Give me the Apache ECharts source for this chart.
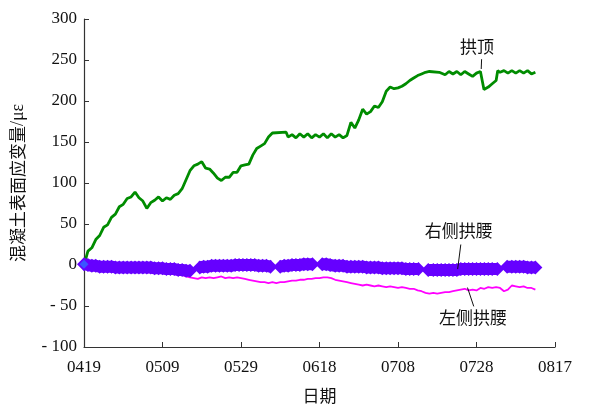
<!DOCTYPE html>
<html>
<head>
<meta charset="utf-8">
<script src="https://cdn.jsdelivr.net/npm/echarts@6/dist/echarts.min.js"></script>
<style>
  html, body { margin: 0; padding: 0; background: #fff; }
  #chart { width: 605px; height: 409px; }
</style>
</head>
<body>
<div id="chart"></div>
<script>
// Tick labels along the date axis (every 20 days from 04-19)
const dateTicks = ['0419', '0509', '0529', '0618', '0708', '0728', '0817'];

// 拱顶 strain, one reading per day (day 0 = 04-19)
const crownDays = [
  0, 1, 2, 3, 4, 5, 6, 7, 8, 9, 10, 11, 12, 13, 14, 15, 16, 17, 18, 19,
  20, 21, 22, 23, 24, 25, 26, 27, 28, 29, 30, 31, 32, 33, 34, 35, 36, 37, 38, 39,
  40, 41, 42, 43, 44, 45, 46, 47, 48, 51.5, 52, 53, 54, 55, 56, 57, 58, 59, 60, 61,
  62, 63, 64, 65, 66, 67, 68, 69, 70, 71, 72, 73, 74, 75, 76, 77, 78, 79, 80, 81,
  82, 83, 84, 85, 86, 87, 88, 90.5, 91, 92, 93, 94, 95, 96, 97, 98, 99, 100, 101, 101.3,
  101.9, 103, 104, 105, 105.4, 106, 107, 108, 109, 110, 111, 112, 113, 114, 115
];
const crownValues = [
  0, 17, 21, 31, 36, 46, 49, 58, 62, 71, 74, 81, 83, 89, 82, 78, 69, 76, 79, 83,
  78, 82, 80, 85, 87, 93, 104, 115, 121, 123, 126, 118, 117, 112, 106, 103, 107, 107, 113, 113,
  121, 122, 123, 134, 142, 145, 148, 156, 161, 162, 156, 159, 155, 160, 156, 160, 155, 159, 156, 160,
  155, 160, 156, 159, 155, 158, 174, 167, 177, 190, 184, 187, 194, 192, 199, 212, 217, 215, 216, 218,
  221, 225, 228, 231, 233, 235, 236, 235, 237, 232, 236, 233, 236, 232, 236, 233, 230, 234, 236, 238,
  214, 217, 221, 225, 237, 235, 237, 234, 237, 234, 237, 234, 237, 233, 235
];

// 右侧拱腰 strain; null marks a break in the record
const rightDays = [
  0, 1, 2, 3, 4, 5, 6, 7, 8, 9, 10, 11, 12, 13, 14, 15, 16, 17, 18, 19,
  20, 21, 22, 23, 24, 25, 26, 27, 28.2, 29.5, 30.5, 31.5, 32.5, 33.5, 34.5, 35.5, 36.5, 37.5, 38.5, 39.5,
  40.5, 41.5, 42.5, 43.5, 44.5, 45.5, 46.5, 47.5, 48.7, 50, 51, 52, 53, 54, 55, 56, 57, 58.2, 59.4, 60.7,
  61.7, 62.7, 64, 65, 66, 67, 68, 69, 70, 71, 72, 73, 74, 75, 76, 77, 78, 79, 80, 81,
  82, 83, 84, 85.2, 86.4, 87.7, 89, 90, 91, 92, 93, 94, 95, 96, 97, 98, 99, 100, 101, 102,
  103, 104, 105.3, 106.5, 107.8, 109, 110, 111, 112, 113, 114, 115
];
const rightValues = [
  1, 0, -1, -1, -2, -2, -2, -2, -3, -3, -3, -3, -3, -3, -3, -3, -3, -3, -4, -4,
  -4, -5, -5, -5, -6, -6, -7, -7, null, -3, -2, -2, -1, -1, -1, -1, -1, -1, 0, 0,
  0, 0, 0, 0, -1, -1, -1, -2, null, -2, -1, -1, 0, 0, 0, 1, 1, 1, null, 1,
  1, 0, -1, -1, -1, -2, -2, -2, -2, -2, -3, -3, -3, -3, -4, -4, -4, -4, -4, -4,
  -5, -5, -5, -5, null, -6, -6, -6, -6, -6, -6, -6, -6, -5, -5, -5, -5, -5, -5, -5,
  -5, -5, -5, null, -2, -2, -2, -2, -2, -3, -3, -3
];

// 左侧拱腰 strain, one reading per day
const leftDays = [
  0, 1, 2, 3, 4, 5, 6, 7, 8, 9, 10, 11, 12, 13, 14, 15, 16, 17, 18, 19,
  20, 21, 22, 23, 24, 25, 26, 27, 28, 29, 30, 31, 32, 33, 34, 35, 36, 37, 38, 39,
  40, 41, 42, 43, 44, 45, 46, 47, 48, 49, 50, 51, 52, 53, 54, 55, 56, 57, 58, 59,
  60, 61, 62, 63, 64, 65, 66, 67, 68, 69, 70, 71, 72, 73, 74, 75, 76, 77, 78, 79,
  80, 81, 82, 83, 84, 85, 86, 87, 88, 89, 90, 91, 92, 93, 94, 95, 96, 97, 98, 99,
  100, 101, 102, 103, 104, 105, 106, 107, 108, 109, 110, 111, 112, 113, 114, 115
];
const leftValues = [
  0, -2, -3, -4, -4, -5, -5, -6, -6, -6, -7, -7, -7, -8, -8, -8, -9, -9, -9, -10,
  -10, -10, -11, -11, -12, -12, -14, -15, -16, -17, -15, -16, -15, -16, -15, -14, -16, -15, -16, -15,
  -16, -17, -18, -19, -20, -21, -21, -22, -21, -22, -21, -21, -20, -19, -19, -18, -18, -17, -17, -16,
  -16, -15, -15, -16, -18, -19, -20, -21, -22, -23, -24, -25, -24, -25, -26, -25, -26, -27, -26, -27,
  -28, -27, -28, -29, -29, -31, -32, -34, -35, -34, -35, -34, -33, -33, -32, -31, -30, -29, -31, -30,
  -31, -28, -29, -27, -28, -27, -28, -32, -30, -25, -26, -27, -26, -28, -28, -30
];

// Curve labels: text anchor and leader-line ends, in [day, strain]
const curveNotes = [
  { text: '拱顶',     at: [100.1, 267],  from: [101.3, 251], to: [101.2, 239] },
  { text: '右侧拱腰', at: [95.5, 41.6],  from: [96.0, 25],   to: [95.2, -5] },
  { text: '左侧拱腰', at: [99.1, -63.9], from: [97.7, -27.5], to: [99.3, -50.5] }
];

const pair = (xs, ys) => xs.map((x, i) => [x, ys[i] === null ? '-' : ys[i]]);

const serif = '"Liberation Serif", "Times New Roman", serif';
const cjk = '"Noto Sans CJK SC", sans-serif';

const chart = echarts.init(document.getElementById('chart'), null, { renderer: 'canvas' });

const option = {
  animation: false,
  backgroundColor: '#ffffff',
  grid: { left: 84, right: 50, top: 19, bottom: 59, containLabel: false },
  xAxis: {
    type: 'value',
    min: 0, max: 120, interval: 20,
    name: '日期',
    nameLocation: 'middle',
    nameGap: 40,
    nameTextStyle: { fontFamily: cjk, fontSize: 17, color: '#111' },
    axisLine: { show: true, onZero: false, lineStyle: { color: '#333', width: 1.2 } },
    axisTick: { show: true, inside: true, length: 5, lineStyle: { color: '#333' } },
    axisLabel: {
      margin: 12, color: '#111', fontFamily: serif, fontSize: 17,
      formatter: v => dateTicks[Math.round(v / 20)]
    },
    splitLine: { show: false }
  },
  yAxis: {
    type: 'value',
    min: -100, max: 300, interval: 50,
    name: '{a|混凝土表面应变量}{b|/με}',
    nameLocation: 'middle',
    nameGap: 57,
    nameRotate: 90,
    nameTextStyle: {
      color: '#111',
      rich: {
        a: { fontFamily: cjk, fontSize: 17, color: '#111' },
        b: { fontFamily: serif, fontSize: 18, color: '#111' }
      }
    },
    axisLine: { show: true, onZero: false, lineStyle: { color: '#333', width: 1.2 } },
    axisTick: { show: true, inside: true, length: 5, lineStyle: { color: '#333' } },
    axisLabel: {
      margin: 7, color: '#111', fontFamily: serif, fontSize: 17,
      formatter: v => (v < 0 ? '- ' + (-v) : String(v))
    },
    splitLine: { show: false }
  },
  series: [
    {
      name: '左侧拱腰',
      type: 'line',
      data: pair(leftDays, leftValues),
      showSymbol: false,
      lineStyle: { color: '#ff00ff', width: 1.8 },
      z: 2
    },
    {
      name: '拱顶',
      type: 'line',
      data: pair(crownDays, crownValues),
      showSymbol: false,
      lineStyle: { color: '#008c00', width: 2.8 },
      z: 3
    },
    {
      name: '右侧拱腰',
      type: 'line',
      data: pair(rightDays, rightValues),
      connectNulls: false,
      symbol: 'diamond',
      symbolSize: 14,
      showSymbol: true,
      showAllSymbol: true,
      itemStyle: { color: '#6600ff' },
      lineStyle: { color: '#6600ff', width: 12, cap: 'butt', join: 'round' },
      z: 4
    },
    {
      name: '起点',
      type: 'scatter',
      data: [[rightDays[0], rightValues[0]]],
      symbol: 'diamond',
      symbolSize: 9,
      itemStyle: { color: '#2f6bff' },
      z: 5
    }
  ]
};

chart.setOption(option);

// Curve labels with short leader lines, placed through the chart's own scales
function placeNotes() {
  const elements = [];
  curveNotes.forEach(n => {
    const p = chart.convertToPixel({ gridIndex: 0 }, n.at);
    const a = chart.convertToPixel({ gridIndex: 0 }, n.from);
    const b = chart.convertToPixel({ gridIndex: 0 }, n.to);
    elements.push({
      type: 'line',
      shape: { x1: a[0], y1: a[1], x2: b[0], y2: b[1] },
      style: { stroke: '#111', lineWidth: 1 },
      z: 10
    });
    elements.push({
      type: 'text',
      x: p[0], y: p[1],
      style: {
        text: n.text, fill: '#111', font: '17px ' + cjk,
        align: 'center', verticalAlign: 'middle'
      },
      z: 10
    });
  });
  chart.setOption({ graphic: elements });
}
placeNotes();
</script>
</body>
</html>
